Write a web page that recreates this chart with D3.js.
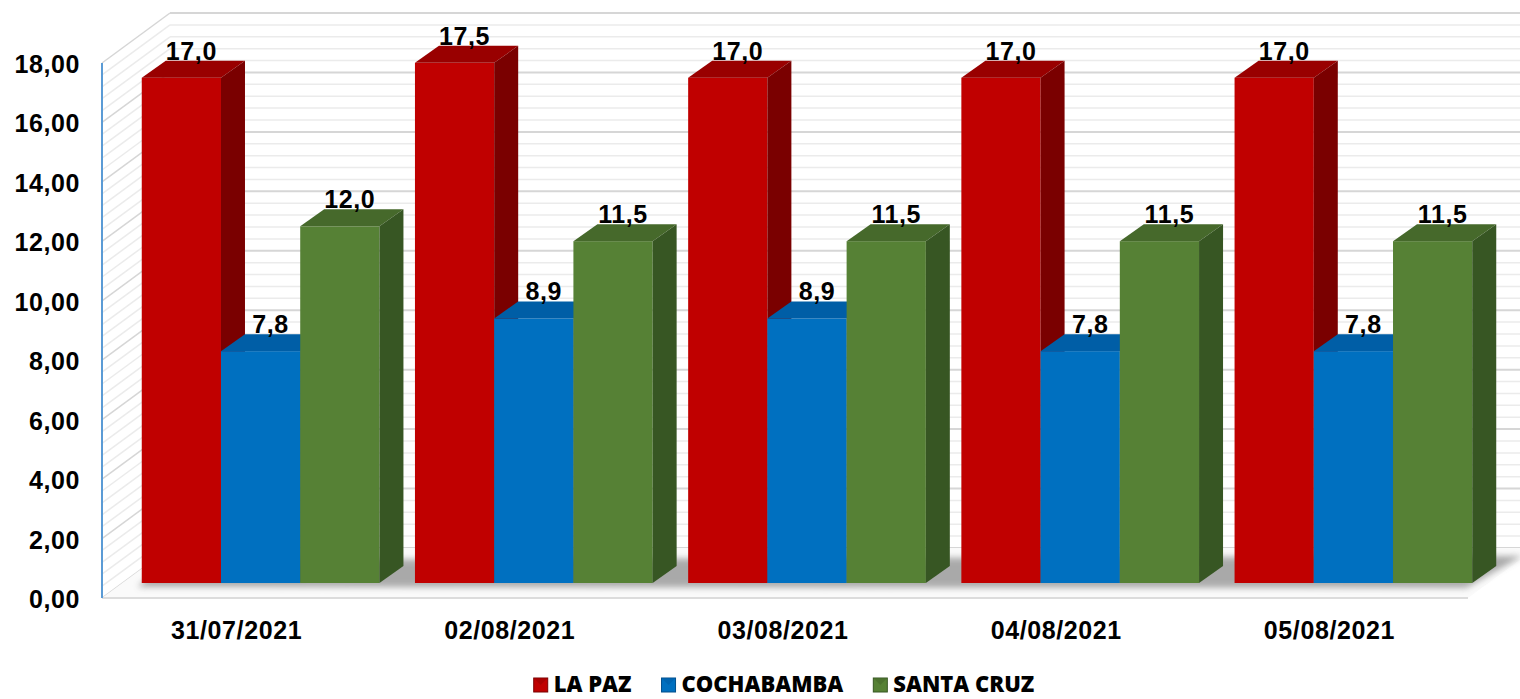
<!DOCTYPE html>
<html>
<head>
<meta charset="utf-8">
<script src="https://cdn.jsdelivr.net/npm/d3@7"></script>
<style>
  body { margin: 0; background: #fff; }
  svg { display: block; font-family: "Liberation Sans", Arial, sans-serif; }
  .tick-label, .cat-label, .val-label { font-weight: bold; fill: #000; letter-spacing: 0.6px; }
  .legend-text { font-family: "Open Sans", sans-serif; font-weight: 800; font-size: 22px; }
</style>
</head>
<body>
<svg width="1520" height="699"></svg>
<script>
const categories = ['31/07/2021', '02/08/2021', '03/08/2021', '04/08/2021', '05/08/2021'];
const seriesNames = ['LA PAZ', 'COCHABAMBA', 'SANTA CRUZ'];
const laPaz = [17.0, 17.5, 17.0, 17.0, 17.0];
const cochabamba = [7.8, 8.9, 8.9, 7.8, 7.8];
const santaCruz = [12.0, 11.5, 11.5, 11.5, 11.5];
const yTicks = [0, 2, 4, 6, 8, 10, 12, 14, 16, 18];

const seriesValues = [laPaz, cochabamba, santaCruz];
const colors = [
  { front: '#c00000', top: '#990000', side: '#7a0000' },
  { front: '#0070c0', top: '#005ea6', side: '#004f8c' },
  { front: '#568135', top: '#46692b', side: '#375623' }
];

const WIDTH = 1520, HEIGHT = 699;
const LEFT = 102, RIGHT = 1468, BOTTOM = 598, TOP = 63;
// oblique depth offsets
const WALL = { dx: 68, dy: -50 };
const BAR_FRONT = { dx: 22, dy: -15 };
const BAR_DEPTH = { dx: 24, dy: -17 };

const locale = d3.formatLocale({ decimal: ',', thousands: '.', grouping: [3], currency: ['', ''] });
const fmtTick = locale.format('.2f');
const fmtVal = locale.format('.1f');

const y = d3.scaleLinear().domain([0, 18]).range([BOTTOM, TOP]);
const x0 = d3.scaleBand().domain(categories).range([LEFT, RIGHT]).paddingInner(0.13).paddingOuter(0.065);
const x1 = d3.scaleBand().domain(seriesNames).range([0, x0.bandwidth()]);

const svg = d3.select('svg');

const defs = svg.append('defs');
defs.append('filter').attr('id', 'blur')
  .attr('x', '-10%').attr('y', '-50%').attr('width', '120%').attr('height', '200%')
  .append('feGaussianBlur').attr('stdDeviation', 3);

// walls
const grid = svg.append('g');
const gridVals = d3.range(0, 46).map(i => +(i * 0.4).toFixed(1));

grid.selectAll('line.side')
  .data(gridVals)
  .enter()
  .append('line')
  .attr('x1', LEFT).attr('y1', d => y(d))
  .attr('x2', LEFT + WALL.dx).attr('y2', d => y(d) + WALL.dy)
  .attr('stroke', (d, i) => i % 5 === 0 ? '#d6d6d6' : '#ebebeb')
  .attr('stroke-width', 1.5);

grid.selectAll('line.back')
  .data(gridVals)
  .enter()
  .append('line')
  .attr('x1', LEFT + WALL.dx).attr('y1', d => y(d) + WALL.dy)
  .attr('x2', WIDTH).attr('y2', d => y(d) + WALL.dy)
  .attr('stroke', (d, i) => i % 5 === 0 ? '#d6d6d6' : '#ebebeb')
  .attr('stroke-width', (d, i) => i % 5 === 0 ? 2 : 1.5);

// floor
svg.append('path')
  .attr('d', `M${LEFT},${BOTTOM} L${RIGHT},${BOTTOM} L${RIGHT + WALL.dx},${BOTTOM + WALL.dy} L${LEFT + WALL.dx},${BOTTOM + WALL.dy} Z`)
  .attr('fill', '#fafafa');
svg.append('line')
  .attr('x1', LEFT).attr('y1', BOTTOM).attr('x2', RIGHT).attr('y2', BOTTOM)
  .attr('stroke', '#dcdcdc').attr('stroke-width', 2);

// floor shadow under the bars
const firstX = x0(categories[0]) + BAR_FRONT.dx;
const lastX = x0(categories[categories.length - 1]) + x0.bandwidth() + BAR_FRONT.dx;
const baseY = y(0) + BAR_FRONT.dy;
svg.append('path')
  .attr('d', `M${firstX - 4},${baseY + 4} L${lastX - 6},${baseY + 5} L${lastX + BAR_DEPTH.dx + 26},${baseY + BAR_DEPTH.dy - 10} L${firstX + BAR_DEPTH.dx},${baseY + BAR_DEPTH.dy - 6} Z`)
  .attr('fill', '#9c9c9c')
  .attr('opacity', 0.85)
  .attr('filter', 'url(#blur)');

// y axis line
svg.append('line')
  .attr('x1', LEFT).attr('y1', y(18)).attr('x2', LEFT).attr('y2', y(0))
  .attr('stroke', '#5b9bd5').attr('stroke-width', 2);

// bars
const bars = [];
categories.forEach((c, ci) => {
  seriesNames.forEach((s, si) => {
    bars.push({ cat: c, series: s, si: si, value: seriesValues[si][ci] });
  });
});

const barG = svg.append('g')
  .selectAll('g')
  .data(bars)
  .enter()
  .append('g');

const bx = d => x0(d.cat) + x1(d.series) + BAR_FRONT.dx;
const bw = x1.bandwidth();
const by = d => y(d.value) + BAR_FRONT.dy;
const bb = y(0) + BAR_FRONT.dy;

barG.append('rect')
  .attr('x', d => bx(d))
  .attr('y', d => by(d))
  .attr('width', bw)
  .attr('height', d => bb - by(d))
  .attr('fill', d => colors[d.si].front);

barG.append('path')
  .attr('d', d => {
    const l = bx(d), t = by(d);
    return `M${l},${t} L${l + bw},${t} L${l + bw + BAR_DEPTH.dx},${t + BAR_DEPTH.dy} L${l + BAR_DEPTH.dx},${t + BAR_DEPTH.dy} Z`;
  })
  .attr('fill', d => colors[d.si].top);

barG.append('path')
  .attr('d', d => {
    const r = bx(d) + bw, t = by(d);
    return `M${r},${t} L${r + BAR_DEPTH.dx},${t + BAR_DEPTH.dy} L${r + BAR_DEPTH.dx},${bb + BAR_DEPTH.dy} L${r},${bb} Z`;
  })
  .attr('fill', d => colors[d.si].side);

// value labels
svg.append('g')
  .selectAll('text')
  .data(bars)
  .enter()
  .append('text')
  .classed('val-label', true)
  .attr('x', d => bx(d) + bw / 2 + BAR_DEPTH.dx / 2 - 2)
  .attr('y', d => by(d) + BAR_DEPTH.dy - 1)
  .attr('text-anchor', 'middle')
  .attr('font-size', 25)
  .text(d => fmtVal(d.value));

// y tick labels
svg.append('g')
  .selectAll('text')
  .data(yTicks)
  .enter()
  .append('text')
  .classed('tick-label', true)
  .attr('x', 80)
  .attr('y', d => y(d) + 10)
  .attr('text-anchor', 'end')
  .attr('font-size', 25)
  .text(d => fmtTick(d));

// category labels
svg.append('g')
  .selectAll('text')
  .data(categories)
  .enter()
  .append('text')
  .classed('cat-label', true)
  .attr('x', d => x0(d) + x0.bandwidth() / 2 - 2)
  .attr('y', 639)
  .attr('text-anchor', 'middle')
  .attr('font-size', 25)
  .text(d => d);

// legend
const legend = svg.append('g');
const items = legend.selectAll('g')
  .data(seriesNames)
  .enter()
  .append('g');

items.append('rect')
  .attr('width', 14).attr('height', 14)
  .attr('y', 678)
  .attr('fill', (d, i) => colors[i].front)
  .attr('stroke', (d, i) => colors[i].side)
  .attr('stroke-width', 1);

items.append('path')
  .attr('d', 'M0,678 L14,678 L7,685 Z')
  .attr('fill', (d, i) => colors[i].top)
  .attr('opacity', 0.6);

items.append('text')
  .classed('legend-text', true)
  .attr('x', 20)
  .attr('y', 692)
  .text(d => d);

let cursor = 0;
const offsets = [];
items.each(function () {
  offsets.push(cursor);
  const w = d3.select(this).select('text').node().getComputedTextLength();
  cursor += 20 + w + 30;
});
const totalW = cursor - 30;
const startX = 784 - totalW / 2;
items.attr('transform', (d, i) => `translate(${startX + offsets[i]},0)`);
</script>
</body>
</html>
